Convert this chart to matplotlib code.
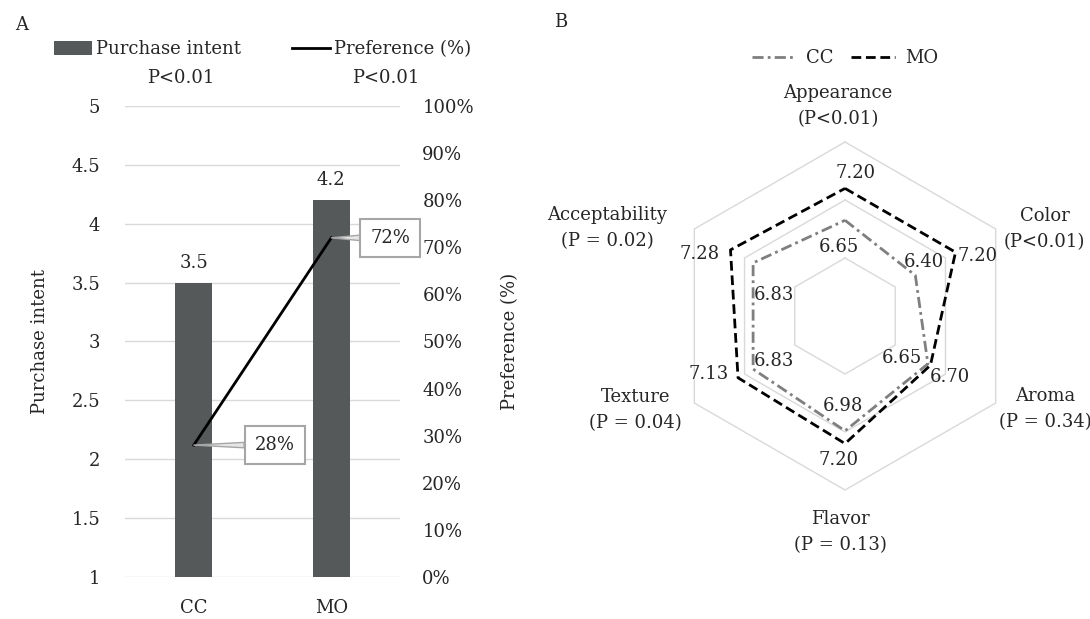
import numpy as np
import matplotlib
matplotlib.use("Agg")
import matplotlib.pyplot as plt
from matplotlib.ticker import FixedLocator

# ---------------- data ----------------
bar_categories = ["CC", "MO"]
purchase_intent = [3.5, 4.2]
preference = [0.28, 0.72]
left_ticks = [1, 1.5, 2, 2.5, 3, 3.5, 4, 4.5, 5]
left_ticklabels = ["1", "1.5", "2", "2.5", "3", "3.5", "4", "4.5", "5"]
right_ticks = [0, 0.1, 0.2, 0.3, 0.4, 0.5, 0.6, 0.7, 0.8, 0.9, 1.0]
right_ticklabels = ["0%", "10%", "20%", "30%", "40%", "50%", "60%", "70%", "80%", "90%", "100%"]
pvalue_bar = ["P<0.01", "P<0.01"]

radar_attributes = ["Appearance", "Color", "Aroma", "Flavor", "Texture", "Acceptability"]
radar_pvalues = ["(P<0.01)", "(P<0.01)", "(P = 0.34)", "(P = 0.13)", "(P = 0.04)", "(P = 0.02)"]
cc_scores = [6.65, 6.40, 6.65, 6.98, 6.83, 6.83]
mo_scores = [7.20, 7.20, 6.70, 7.20, 7.13, 7.28]
radar_rings = [6, 7, 8]
radar_min, radar_max = 5, 8

# ---------------- style ----------------
plt.rcParams["font.family"] = ["DejaVu Serif"]
plt.rcParams["font.size"] = 13
TXT = "#262626"
GRID = "#d9d9d9"
BAR = "#55595a"

fig = plt.figure(figsize=(10.9, 6.19), dpi=100)

# ---------------- panel A ----------------
ax = fig.add_axes([0.1147, 0.0679, 0.2523, 0.7609])
ax2 = ax.twinx()
x = np.arange(len(bar_categories))
bars = ax.bar(x, [v - left_ticks[0] for v in purchase_intent], bottom=left_ticks[0],
              width=0.27, color=BAR, zorder=2)
ax.set_xlim(-0.5, 1.5)
ax.set_ylim(1, 5)
ax.yaxis.set_major_locator(FixedLocator(left_ticks))
ax.set_yticklabels(left_ticklabels)
ax.set_xticks(x)
ax.set_xticklabels(bar_categories)
ax.grid(axis="y", color=GRID, lw=1, zorder=0)
ax.set_axisbelow(True)
for s in ax.spines.values():
    s.set_visible(False)
for s in ax2.spines.values():
    s.set_visible(False)
ax.tick_params(axis="y", length=0, pad=18, colors=TXT)
ax.tick_params(axis="x", length=0, pad=16, colors=TXT)

for xi, v in zip(x, purchase_intent):
    ax.annotate(f"{v:.1f}", xy=(xi, v), xytext=(0, 20), textcoords="offset pixels",
                ha="center", va="center", color=TXT)

ax2.set_ylim(0, 1)
ax2.yaxis.set_major_locator(FixedLocator(right_ticks))
ax2.set_yticklabels(right_ticklabels)
ax2.tick_params(axis="y", length=0, pad=16, colors=TXT)
line, = ax2.plot(x, preference, color="black", lw=2, zorder=3)

callout_offsets = [(81, 0), (59, 0)]
for xi, v, off in zip(x, preference, callout_offsets):
    ax2.annotate(f"{round(v * 100)}%", xy=(xi, v), xytext=off, textcoords="offset pixels",
                 ha="center", va="center", color=TXT,
                 bbox=dict(boxstyle="square,pad=0.55", fc="white", ec="#a6a6a6", lw=1.5),
                 arrowprops=dict(arrowstyle="wedge,tail_width=0.3,shrink_factor=0.5",
                                 fc="#e6e6e6", ec="#a6a6a6", lw=1.0,
                                 shrinkA=0, shrinkB=0),
                 zorder=4)

ax.set_ylabel("Purchase intent", color=TXT)
ax.yaxis.set_label_coords(-0.31, 0.5)
ax.yaxis.label.set_verticalalignment("center")
ax2.set_ylabel("Preference (%)", color=TXT)
ax2.yaxis.set_label_coords(1.40, 0.5)
ax2.yaxis.label.set_verticalalignment("center")

leg = ax2.legend([bars, line], ["Purchase intent", "Preference (%)"], ncol=2,
                 loc="center", bbox_to_anchor=(0.5, 1.12), frameon=False,
                 handlelength=2.1, handleheight=0.83, handletextpad=0.25,
                 columnspacing=2.8, borderaxespad=0, labelcolor=TXT)
for px, ptxt in zip([0.2036, 0.949], pvalue_bar):
    ax2.text(px, 1.0594, ptxt, transform=ax2.transAxes, ha="center", va="center", color=TXT)

fig.text(0.0138, 0.96, "A", ha="left", va="center", color=TXT)
fig.text(0.508, 0.964, "B", ha="left", va="center", color=TXT)

# ---------------- panel B ----------------
rax = fig.add_axes([0.6156, 0.2084, 0.3193, 0.5622], projection="polar")
rax.set_theta_offset(np.pi / 2)
rax.set_theta_direction(-1)
rax.set_ylim(radar_min, radar_max)
rax.set_xticks([])
rax.set_yticks([])
rax.grid(False)
rax.spines["polar"].set_visible(False)
rax.patch.set_visible(False)

n = len(radar_attributes)
theta = np.arange(n) * 2 * np.pi / n
theta_c = np.append(theta, theta[0])

for r in radar_rings:
    rax.plot(theta_c, [r] * (n + 1), color=GRID, lw=1, clip_on=False, zorder=1)

cc_c = cc_scores + cc_scores[:1]
mo_c = mo_scores + mo_scores[:1]
l_cc, = rax.plot(theta_c, cc_c, color="#7f7f7f", lw=2,
                 linestyle=(0, (4, 1.5, 1, 1.5)), clip_on=False, zorder=3)
l_mo, = rax.plot(theta_c, mo_c, color="black", lw=2,
                 linestyle=(0, (3.5, 1.7)), clip_on=False, zorder=3)

cc_label_offsets = [(-6, -27), (9, 13), (-26, 6), (-2, 25), (21, 8), (21, -32)]
mo_label_offsets = [(11, 15), (22, -4), (19, -12), (-6, -16), (-29, 4), (-31, -4)]
for t, v, off in zip(theta, cc_scores, cc_label_offsets):
    rax.annotate(f"{v:.2f}", xy=(t, v), xytext=off, textcoords="offset pixels",
                 ha="center", va="center", color=TXT, annotation_clip=False, zorder=5)
for t, v, off in zip(theta, mo_scores, mo_label_offsets):
    rax.annotate(f"{v:.2f}", xy=(t, v), xytext=off, textcoords="offset pixels",
                 ha="center", va="center", color=TXT, annotation_clip=False, zorder=5)

cat_offsets = [(-7, 36), (49, 0), (50, -6), (-5, -42), (-59, -7), (-87, 1)]
for t, name, p, off in zip(theta, radar_attributes, radar_pvalues, cat_offsets):
    rax.annotate(f"{name}\n{p}", xy=(t, radar_max), xytext=off, textcoords="offset pixels",
                 ha="center", va="center", color=TXT, linespacing=1.6,
                 annotation_clip=False)

rax.legend([l_cc, l_mo], ["CC", "MO"], ncol=2, loc="center",
           bbox_to_anchor=(0.5, (316 + 174 - 58.5) / 348),
           frameon=False, handlelength=2.4, handletextpad=0.6, columnspacing=1.0,
           borderaxespad=0, labelcolor=TXT)

fig.savefig("out.png", dpi=100)
